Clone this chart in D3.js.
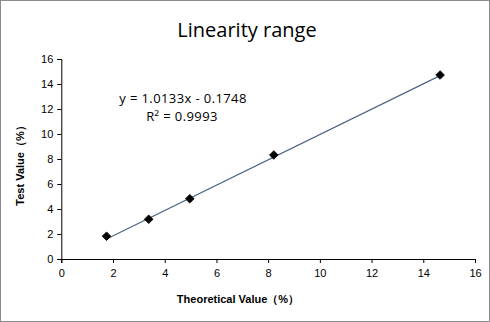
<!DOCTYPE html>
<html>
<head>
<meta charset="utf-8">
<script src="https://cdn.jsdelivr.net/npm/d3@7/dist/d3.min.js"></script>
<style>
  html, body { margin: 0; padding: 0; background: #fff; }
  svg { display: block; }
</style>
</head>
<body>
<svg id="chart" width="490" height="322"></svg>
<script>
// Measured vs. theoretical concentration
const theoretical = [1.75, 3.38, 4.97, 8.22, 14.65];
const measured = [1.82, 3.18, 4.82, 8.32, 14.72];
const xTicks = [0, 2, 4, 6, 8, 10, 12, 14, 16];
const yTicks = [0, 2, 4, 6, 8, 10, 12, 14, 16];
const slope = 1.0133;
const intercept = -0.1748;
const rSquared = 0.9993;

const svg = d3.select("#chart");
const W = 490, H = 322;
const plot = { left: 61.3, right: 475, top: 59, bottom: 259 };

// outer frame
svg.append("rect")
  .attr("x", 0.5).attr("y", 0.5)
  .attr("width", W - 1).attr("height", H - 1)
  .attr("fill", "#fff").attr("stroke", "#8c8c8c");

const x = d3.scaleLinear().domain([0, 16]).range([plot.left, plot.right]);
const y = d3.scaleLinear().domain([0, 16]).range([plot.bottom, plot.top]);

const tickFont = "Liberation Sans, Arial, sans-serif";

// x axis
const gx = svg.append("g")
  .attr("transform", `translate(0,${plot.bottom})`)
  .call(d3.axisBottom(x).tickValues(xTicks).tickSize(4).tickPadding(6).tickFormat(d3.format("d")));
// y axis
const gy = svg.append("g")
  .attr("transform", `translate(${plot.left},0)`)
  .call(d3.axisLeft(y).tickValues(yTicks).tickSize(4).tickPadding(4).tickFormat(d3.format("d")));

[gx, gy].forEach(g => {
  g.select(".domain").attr("stroke", "#000").attr("stroke-width", 1);
  g.selectAll(".tick line").attr("stroke", "#000");
  g.selectAll(".tick text")
    .attr("fill", "#000")
    .style("font-family", tickFont)
    .style("font-size", "11px");
});

// trend line from the fitted equation
const x0 = d3.min(theoretical), x1 = d3.max(theoretical);
svg.append("line")
  .attr("x1", x(x0)).attr("y1", y(slope * x0 + intercept))
  .attr("x2", x(x1)).attr("y2", y(slope * x1 + intercept))
  .attr("stroke", "#4f6484")
  .attr("stroke-width", 1.2);

// data markers
svg.append("g").selectAll("path")
  .data(theoretical.map((t, i) => [t, measured[i]]))
  .join("path")
  .attr("transform", d => `translate(${x(d[0])},${y(d[1])})`)
  .attr("d", d3.symbol().type(d3.symbolDiamond2).size(48))
  .attr("fill", "#000")
  .attr("stroke", "#000")
  .attr("stroke-width", 0.8);

// title
svg.append("text")
  .attr("x", 247).attr("y", 37)
  .attr("text-anchor", "middle")
  .style("font-family", "Open Sans, Liberation Sans, sans-serif")
  .style("font-size", "20px")
  .attr("fill", "#000")
  .text("Linearity range");

// equation labels
const eqFont = "Open Sans, Liberation Sans, sans-serif";
svg.append("text")
  .attr("x", 183).attr("y", 103)
  .attr("text-anchor", "middle")
  .style("font-family", eqFont)
  .style("font-size", "13px")
  .style("letter-spacing", "0.4px")
  .attr("fill", "#000")
  .text(`y = ${slope.toFixed(4)}x - ${Math.abs(intercept).toFixed(4)}`);
svg.append("text")
  .attr("x", 182).attr("y", 121)
  .attr("text-anchor", "middle")
  .style("font-family", eqFont)
  .style("font-size", "13px")
  .style("letter-spacing", "0.4px")
  .attr("fill", "#000")
  .text(`R² = ${rSquared.toFixed(4)}`);

// axis titles
svg.append("text")
  .attr("x", 238).attr("y", 303)
  .attr("text-anchor", "middle")
  .style("font-family", tickFont)
  .style("font-size", "11px")
  .style("font-weight", "bold")
  .attr("fill", "#000")
  .text("Theoretical Value（%）");

svg.append("text")
  .attr("transform", "translate(24,163) rotate(-90)")
  .attr("text-anchor", "middle")
  .style("font-family", tickFont)
  .style("font-size", "11px")
  .style("font-weight", "bold")
  .attr("fill", "#000")
  .text("Test Value（%）");
</script>
</body>
</html>
